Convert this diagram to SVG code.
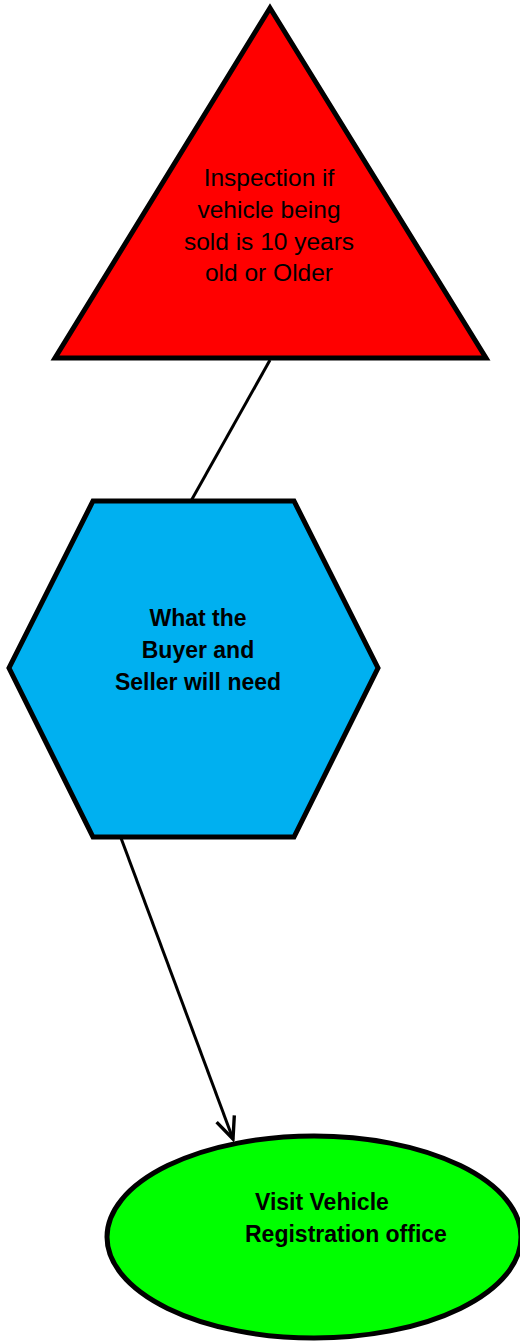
<svg xmlns="http://www.w3.org/2000/svg" width="520" height="1341" viewBox="0 0 520 1341">
<defs>
<style>
.shape{stroke:#000;stroke-width:5;stroke-linejoin:miter}
.t{font-family:"Liberation Sans",Arial,sans-serif;font-size:24.5px;fill:#000}
.b{font-weight:bold;font-size:23px}
.conn{stroke:#000;stroke-width:3;fill:none}
</style>
<marker id="arr" viewBox="0 0 20 20" refX="18" refY="10" markerWidth="9" markerHeight="9" orient="auto" markerUnits="strokeWidth">
<path d="M2,3 L18,10 L2,17" fill="none" stroke="#000" stroke-width="2.5"/>
</marker>
</defs>
<rect width="520" height="1341" fill="#fff"/>
<g id="connectors">
<line class="conn" x1="270" y1="360" x2="191" y2="501"/>
<line class="conn" x1="121" y1="838" x2="233" y2="1139" marker-end="url(#arr)"/>
</g>
<g id="inspection">
<polygon class="shape" fill="#ff0000" points="270,8 486,358 55,358"/>
<text class="t" text-anchor="middle"><tspan x="269" y="186">Inspection if</tspan><tspan x="269" y="218">vehicle being</tspan><tspan x="269" y="250">sold is 10 years</tspan><tspan x="269" y="281">old or Older</tspan></text>
</g>
<g id="needs">
<polygon class="shape" fill="#00b0f0" points="93,501 294,501 378,668 294,837 93,837 9,668"/>
<text class="t b" text-anchor="middle"><tspan x="198" y="626">What the</tspan><tspan x="198" y="658">Buyer and</tspan><tspan x="198" y="690">Seller will need</tspan></text>
</g>
<g id="visit">
<ellipse class="shape" fill="#00ff00" cx="314" cy="1237" rx="207" ry="101"/>
<text class="t b"><tspan x="255" y="1210">Visit Vehicle</tspan><tspan x="245" y="1242">Registration office</tspan></text>
</g>
</svg>
